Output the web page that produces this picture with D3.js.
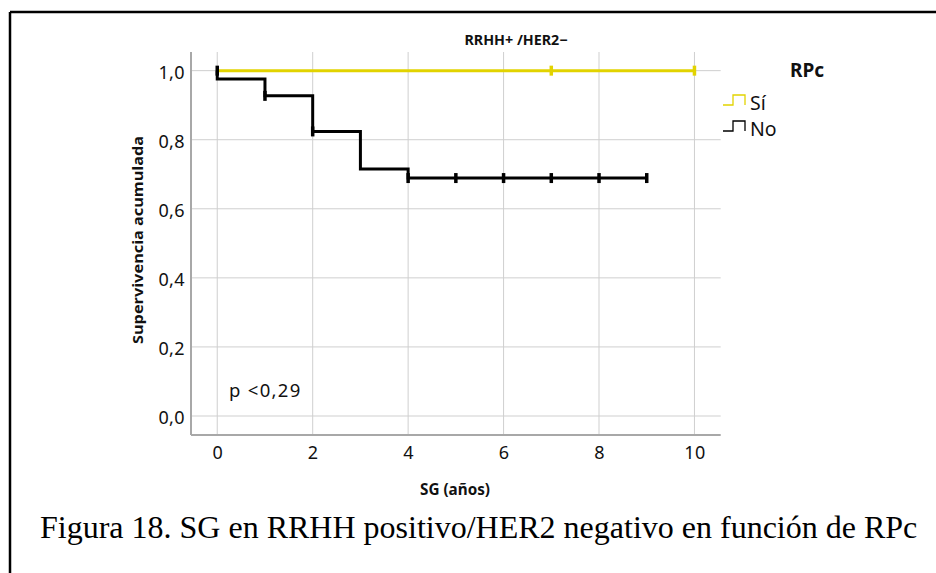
<!DOCTYPE html>
<html>
<head>
    <meta charset="utf-8">
    <title>SG RRHH+/HER2-</title>
    <style>
        html, body { margin: 0; padding: 0; background: #fff; }
        .tick-lbl { font-family: "Noto Sans", sans-serif; font-size: 18px; letter-spacing: 0.4px; fill: #111; }
        .ax-title { font-family: "Noto Sans", sans-serif; font-weight: bold; fill: #111; }
    </style>
    <script src="https://d3js.org/d3.v7.min.js"></script>
</head>
<body>
<svg id="chart"></svg>
<script>
// curva "No"
const noTimes = [0, 0, 1, 2, 3, 4, 9];
const noSurv  = [1.0, 0.976, 0.927, 0.824, 0.715, 0.689, 0.689];
const noCensT = [0, 1, 2, 4, 5, 6, 7, 8, 9];
const noCensS = [1.0, 0.927, 0.824, 0.689, 0.689, 0.689, 0.689, 0.689, 0.689];
// curva "Sí"
const siTimes = [0, 10];
const siSurv  = [1.0, 1.0];
const siCensT = [7, 10];
const siCensS = [1.0, 1.0];

const xTicks = [0, 2, 4, 6, 8, 10];
const yTicks = [0, 0.2, 0.4, 0.6, 0.8, 1.0];
const series = ["Sí", "No"];
const colors = { "Sí": "#e2d300", "No": "#000000" };

const W = 936, H = 573;
const svg = d3.select("#chart").attr("width", W).attr("height", H);

// marco
svg.append("line").attr("x1", 10).attr("x2", W).attr("y1", 12).attr("y2", 12)
    .attr("stroke", "#000").attr("stroke-width", 2.5);
svg.append("line").attr("x1", 10).attr("x2", 10).attr("y1", 12).attr("y2", H)
    .attr("stroke", "#000").attr("stroke-width", 2.5);

const pL = 191, pR = 720.7, pT = 52, pB = 435;
const x = d3.scaleLinear().domain([-0.55, 10.55]).range([pL, pR]);
const y = d3.scaleLinear().domain([-0.055, 1.054]).range([pB, pT]);

// rejilla
svg.append("g").selectAll("line").data(xTicks).enter().append("line")
    .attr("x1", d => x(d)).attr("x2", d => x(d)).attr("y1", pT).attr("y2", pB)
    .attr("stroke", "#cfcfcf").attr("stroke-width", 1);
svg.append("g").selectAll("line").data(yTicks).enter().append("line")
    .attr("x1", pL).attr("x2", pR).attr("y1", d => y(d)).attr("y2", d => y(d))
    .attr("stroke", "#cfcfcf").attr("stroke-width", 1);

// ejes
const fmt = d => d3.format(".1f")(d).replace(".", ",");
const yAxis = svg.append("g").attr("transform", `translate(${pL},0)`)
    .call(d3.axisLeft(y).tickValues(yTicks).tickSize(0).tickPadding(6).tickFormat(fmt));
yAxis.select(".domain").attr("stroke", "#a8a8a8").attr("stroke-width", 2)
    .attr("d", `M0,${pT}V${pB}`);
yAxis.selectAll("text").attr("class", "tick-lbl").attr("font-family", null).attr("font-size", null)
    .attr("dy", "0.42em");

const xAxis = svg.append("g").attr("transform", `translate(0,${pB})`)
    .call(d3.axisBottom(x).tickValues(xTicks).tickSize(0).tickPadding(11).tickFormat(d3.format("d")));
xAxis.select(".domain").attr("stroke", "#a8a8a8").attr("stroke-width", 2)
    .attr("d", `M${pL},0H${pR}`);
xAxis.selectAll("text").attr("class", "tick-lbl").attr("font-family", null).attr("font-size", null);

// títulos
svg.append("text").attr("class", "ax-title").attr("x", 516).attr("y", 45)
    .attr("font-size", 14).attr("text-anchor", "middle")
    .attr("textLength", 103).attr("lengthAdjust", "spacingAndGlyphs")
    .text("RRHH+ /HER2−");
svg.append("text").attr("class", "ax-title").attr("x", 455).attr("y", 495)
    .attr("font-size", 15.5).attr("text-anchor", "middle")
    .attr("textLength", 70).attr("lengthAdjust", "spacingAndGlyphs")
    .text("SG (años)");
svg.append("text").attr("class", "ax-title").attr("font-size", 15)
    .attr("transform", `translate(143,240) rotate(-90)`)
    .attr("text-anchor", "middle")
    .attr("textLength", 208).attr("lengthAdjust", "spacingAndGlyphs")
    .text("Supervivencia acumulada");

// curvas
const line = d3.line().x(d => x(d[0])).y(d => y(d[1])).curve(d3.curveStepAfter);
svg.append("path").datum(d3.zip(siTimes, siSurv)).attr("d", line)
    .attr("fill", "none").attr("stroke", colors["Sí"]).attr("stroke-width", 3);
svg.append("path").datum(d3.zip(noTimes, noSurv)).attr("d", line)
    .attr("fill", "none").attr("stroke", colors["No"]).attr("stroke-width", 3);

// censuras
function cens(ts, ss, col) {
    svg.append("g").selectAll("line").data(d3.zip(ts, ss)).enter().append("line")
        .attr("x1", d => x(d[0])).attr("x2", d => x(d[0]))
        .attr("y1", d => y(d[1]) - 5).attr("y2", d => y(d[1]) + 5)
        .attr("stroke", col).attr("stroke-width", 3.5);
}
cens(siCensT, siCensS, colors["Sí"]);
cens(noCensT, noCensS, colors["No"]);

// p valor
svg.append("text").attr("x", 229).attr("y", 397)
    .attr("font-family", "Noto Sans, sans-serif").attr("font-size", 18.5).attr("fill", "#111")
    .attr("letter-spacing", 1.3)
    .text("p <0,29");

// leyenda
svg.append("text").attr("x", 790).attr("y", 77)
    .attr("font-family", "Noto Sans, sans-serif").attr("font-size", 19).attr("font-weight", "bold")
    .attr("fill", "#111").text("RPc");
const lg = svg.append("g").selectAll("g").data(series).enter().append("g")
    .attr("transform", (d, i) => `translate(723,${105 + i * 26})`);
lg.append("path").attr("d", "M0,0H10V-10H22V0")
    .attr("fill", "none").attr("stroke", d => colors[d]).attr("stroke-width", 1.3);
lg.append("text").attr("x", 27).attr("y", 5)
    .attr("font-family", "Noto Sans, sans-serif").attr("font-size", 19.5).attr("fill", "#111")
    .text(d => d);

// pie de figura
svg.append("text").attr("x", 40).attr("y", 538)
    .attr("font-family", "Liberation Serif, serif").attr("font-size", 32).attr("fill", "#000")
    .text("Figura 18. SG en RRHH positivo/HER2 negativo en función de RPc");
</script>
</body>
</html>
